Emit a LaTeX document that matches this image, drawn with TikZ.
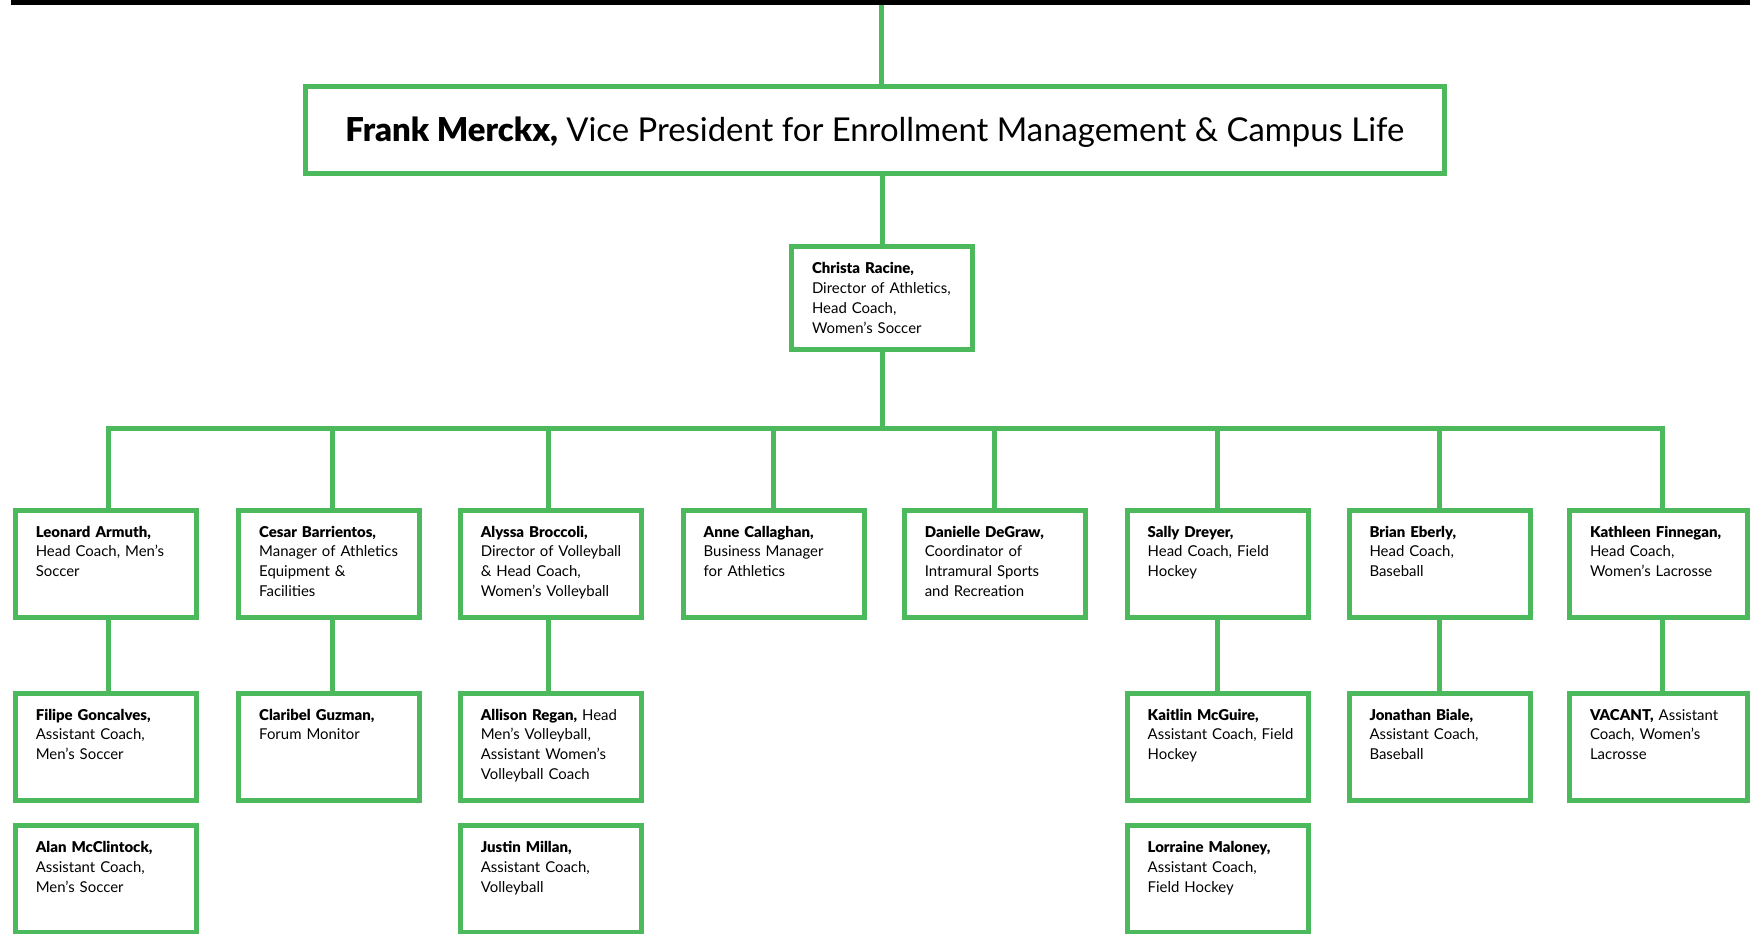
\documentclass[tikz,border=0pt]{standalone}
\usepackage{fontspec}
\setmainfont{Lato}[BoldFont={Lato Black}]
\definecolor{chartgreen}{RGB}{76,185,92}
\tikzset{
  vp/.style={draw=chartgreen, line width=1mm, inner sep=0pt,
    minimum width=227.7mm, minimum height=17.46mm,
    text height=4.6mm, text depth=0pt,
    font=\fontsize{18.7pt}{22pt}\selectfont},
  staff/.style={draw=chartgreen, line width=1mm, align=left,
    font=\fontsize{8.5pt}{11.34pt}\selectfont,
    text width=30.4mm, inner xsep=2.9mm, inner ysep=3.2mm,
    text height=2.2mm, text depth=12.8mm,
    execute at begin node={\leftskip=1.2mm}},
  link/.style={draw=chartgreen, line width=1mm}
}
\begin{document}
\begin{tikzpicture}[x=0.2mm, y=-0.2mm]
      \useasboundingbox (0,0) rectangle (1750,933);
      \fill[black] (11,0) rectangle (1750,5);
      \coordinate (top) at (881.5,5);
      \coordinate (bus) at (882,428);
      \draw
        (874.8,130.2) node[vp] (frank){\textbf{Frank Merckx,} Vice President for Enrollment Management \& Campus Life}
        (882,298) node[staff, text depth=12mm] (christa){\textbf{Christa Racine,}\\Director of Athletics,\\Head Coach,\\Women's Soccer};
      % first row
      \draw
        (105.8,563.5) node[staff] (leonard){\textbf{Leonard Armuth,}\\Head Coach, Men's\\Soccer}
        (329.2,563.5) node[staff] (cesar){\textbf{Cesar Barrientos,}\\Manager of Athletics\\Equipment \&\\Facilities}
        (550.8,563.5) node[staff] (alyssa){\textbf{Alyssa Broccoli,}\\Director of Volleyball\\\& Head Coach,\\Women's Volleyball}
        (773.7,563.5) node[staff] (anne){\textbf{Anne Callaghan,}\\Business Manager\\for Athletics}
        (994.8,563.5) node[staff] (danielle){\textbf{Danielle DeGraw,}\\Coordinator of\\Intramural Sports\\and Recreation}
        (1217.7,563.5) node[staff] (sally){\textbf{Sally Dreyer,}\\Head Coach, Field\\Hockey}
        (1439.5,563.5) node[staff] (brian){\textbf{Brian Eberly,}\\Head Coach,\\Baseball}
        (1658.5,563.5) node[staff, text width=29.8mm] (kathleen){\textbf{Kathleen Finnegan,}\\Head Coach,\\Women's Lacrosse};
      % second row
      \draw
        (105.8,746.5) node[staff] (filipe){\textbf{Filipe Goncalves,}\\Assistant Coach,\\Men's Soccer}
        (329.2,746.5) node[staff] (claribel){\textbf{Claribel Guzman,}\\Forum Monitor}
        (550.8,746.5) node[staff] (allison){\textbf{Allison Regan,} Head\\Men's Volleyball,\\Assistant Women's\\Volleyball Coach}
        (1217.7,746.5) node[staff] (kaitlin){\textbf{Kaitlin McGuire,}\\Assistant Coach, Field\\Hockey}
        (1439.5,746.5) node[staff] (jonathan){\textbf{Jonathan Biale,}\\Assistant Coach,\\Baseball}
        (1658.5,746.5) node[staff, text width=29.8mm] (vacant){\textbf{VACANT,} Assistant\\Coach, Women's\\Lacrosse};
      % third row
      \draw
        (105.8,879) node[staff] (alan){\textbf{Alan McClintock,}\\Assistant Coach,\\Men's Soccer}
        (550.8,879) node[staff] (justin){\textbf{Justin Millan,}\\Assistant Coach,\\Volleyball}
        (1217.7,879) node[staff] (lorraine){\textbf{Lorraine Maloney,}\\Assistant Coach,\\Field Hockey};
      \begin{scope}[link]
        \draw (top) -- (top |- frank.north);
        \draw (christa) -- (christa |- frank.south);
        \draw (christa) -- (bus);
        \draw (bus) -| ([xshift=0.5mm]leonard.north);
        \draw (bus) -| ([xshift=0.6mm]cesar.north);
        \draw (bus) -| ([xshift=-0.5mm]alyssa.north);
        \draw (bus) -| (anne);
        \draw (bus) -| (danielle);
        \draw (bus) -| (sally);
        \draw (bus) -| (brian);
        \draw (bus) -| ([xshift=0.8mm]kathleen.north);
        \draw ([xshift=0.5mm]leonard.south) -- ([xshift=0.5mm]filipe.north);
        \draw ([xshift=0.6mm]cesar.south) -- ([xshift=0.6mm]claribel.north);
        \draw ([xshift=-0.5mm]alyssa.south) -- ([xshift=-0.5mm]allison.north);
        \draw (sally) to (kaitlin);
        \draw (brian) to (jonathan);
        \draw ([xshift=0.8mm]kathleen.south) -- ([xshift=0.8mm]vacant.north);
      \end{scope}
    \end{tikzpicture}
\end{document}
